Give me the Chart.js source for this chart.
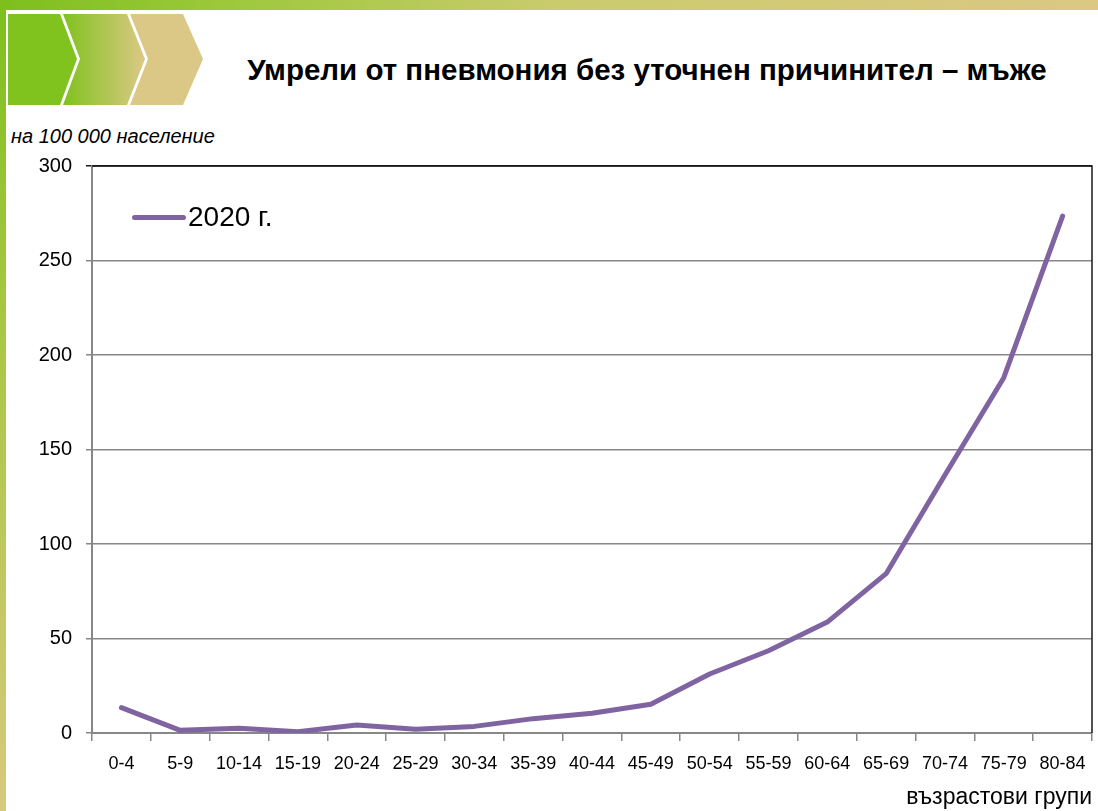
<!DOCTYPE html>
<html lang="bg">
<head>
<meta charset="UTF-8">
<title>Умрели от пневмония без уточнен причинител – мъже</title>
<style>
    body {
        margin: 0;
        width: 1098px;
        height: 811px;
        position: relative;
        overflow: hidden;
        background: #fff;
        font-family: 'Liberation Sans', Arial, sans-serif;
    }
    .top-bar {
        position: absolute;
        left: 0; top: 0;
        width: 1098px; height: 10px;
        background: linear-gradient(to right, #7dbf1d 0%, #9cc83a 20%, #c9cb6c 50%, #dcc884 100%);
    }
    .left-bar {
        position: absolute;
        left: 0; top: 0;
        width: 6px; height: 811px;
        background: linear-gradient(to bottom, #7dbf1d 0%, #a9c744 40%, #d6c97c 100%);
    }
    .chevrons {
        position: absolute;
        left: 0; top: 0;
    }
    .title {
        position: absolute;
        left: 200px; right: 4px; top: 53px;
        text-align: center;
        font-weight: bold;
        font-size: 29.5px;
        color: #000;
    }
    .unit {
        position: absolute;
        left: 11px; top: 125px;
        font-style: italic;
        font-size: 20px;
        color: #000;
    }
    .legend {
        position: absolute;
        left: 132px; top: 201px;
        display: flex;
        align-items: center;
        font-size: 28px;
        color: #000;
    }
    .legend .swatch {
        width: 54px; height: 5px;
        border-radius: 3px;
        margin-right: 2px;
    }
    .chart-box {
        position: absolute;
        left: 0; top: 0;
        width: 1098px; height: 811px;
    }
</style>
</head>
<body>
    <div class="top-bar"></div>
    <div class="left-bar"></div>
    <svg class="chevrons" width="220" height="112">
        <defs>
            <linearGradient id="mid" x1="0" x2="1" y1="0" y2="0">
                <stop offset="0" stop-color="#80c21e"/>
                <stop offset="1" stop-color="#dcc886"/>
            </linearGradient>
        </defs>
        <rect x="6" y="11" width="180" height="96" fill="#fff"/>
        <polygon points="8,14 60,14 77,59 60,105 8,105" fill="#80c21e"/>
        <polygon points="63,14 127,14 145,59 127,105 63,105 80,59" fill="url(#mid)"/>
        <polygon points="130,14 183,14 203,59 183,105 130,105 148,59" fill="#dcc886"/>
    </svg>

    <div class="title">Умрели от пневмония без уточнен причинител – мъже</div>
    <div class="unit">на 100 000 население</div>

    <div class="chart-box"><canvas id="chart"></canvas></div>
    <div class="legend" id="legend"></div>

    <script src="https://cdn.jsdelivr.net/npm/chart.js"></script>
    <script>
        const ageGroups = ['0-4', '5-9', '10-14', '15-19', '20-24', '25-29', '30-34', '35-39', '40-44',
            '45-49', '50-54', '55-59', '60-64', '65-69', '70-74', '75-79', '80-84'];
        const deaths2020 = [13.4, 1.4, 2.5, 0.7, 4.2, 2.0, 3.5, 7.6, 10.4, 15.2, 31.2, 43.5, 58.7, 84.3, 136.5, 188.0, 273.5];
        const yTicks = [0, 50, 100, 150, 200, 250, 300];

        const seriesLabel = '2020 г.';
        const lineColor = '#8064a2';
        const axisGray = '#878787';
        const fontFamily = "'Liberation Sans', Arial, sans-serif";

        // draws the dark top and right edges of the plot area
        const plotFrame = {
            id: 'plotFrame',
            afterDatasetsDraw(chart) {
                const { ctx, chartArea } = chart;
                ctx.save();
                ctx.strokeStyle = '#1a1a1a';
                ctx.lineWidth = 1.5;
                ctx.beginPath();
                ctx.moveTo(chartArea.left, chartArea.top);
                ctx.lineTo(chartArea.right, chartArea.top);
                ctx.lineTo(chartArea.right, chartArea.bottom);
                ctx.stroke();
                ctx.restore();
            }
        };

        const ctx = document.getElementById('chart').getContext('2d');
        const chart = new Chart(ctx, {
            type: 'line',
            data: {
                labels: ageGroups,
                datasets: [{
                    label: seriesLabel,
                    data: deaths2020,
                    borderColor: lineColor,
                    backgroundColor: lineColor,
                    borderWidth: 5,
                    pointRadius: 0,
                    tension: 0,
                    borderCapStyle: 'round',
                    borderJoinStyle: 'round'
                }]
            },
            options: {
                responsive: true,
                maintainAspectRatio: false,
                animation: false,
                layout: {
                    padding: { left: 0, top: 166, right: 6, bottom: 0 }
                },
                plugins: {
                    legend: { display: false },
                    tooltip: { enabled: false }
                },
                scales: {
                    x: {
                        offset: true,
                        grid: {
                            offset: true,
                            drawOnChartArea: false,
                            drawTicks: true,
                            tickLength: 8,
                            color: axisGray,
                            lineWidth: 1.5
                        },
                        border: { color: axisGray, width: 2 },
                        ticks: {
                            color: '#000',
                            font: { family: fontFamily, size: 18 },
                            padding: 12,
                            maxRotation: 0,
                            autoSkip: false
                        },
                        title: {
                            display: true,
                            text: 'възрастови групи',
                            align: 'end',
                            color: '#000',
                            font: { family: fontFamily, size: 23 },
                            padding: { top: 0, bottom: 0 }
                        },
                        afterFit(scale) { scale.height = 78; }
                    },
                    y: {
                        min: 0,
                        max: 300,
                        afterBuildTicks(scale) {
                            scale.ticks = yTicks.map(v => ({ value: v }));
                        },
                        grid: {
                            color: (c) => c.tick && c.tick.value === 300 ? '#1a1a1a' : axisGray,
                            lineWidth: 1.5,
                            tickLength: 6
                        },
                        border: { color: axisGray, width: 2 },
                        ticks: {
                            color: '#000',
                            font: { family: fontFamily, size: 20 },
                            padding: 14
                        },
                        afterFit(scale) { scale.width = 92; }
                    }
                }
            },
            plugins: [plotFrame]
        });

        // legend built from the dataset
        const legendEl = document.getElementById('legend');
        chart.data.datasets.forEach(ds => {
            const sw = document.createElement('span');
            sw.className = 'swatch';
            sw.style.background = ds.borderColor;
            const txt = document.createElement('span');
            txt.textContent = ds.label;
            legendEl.appendChild(sw);
            legendEl.appendChild(txt);
        });
    </script>
</body>
</html>
